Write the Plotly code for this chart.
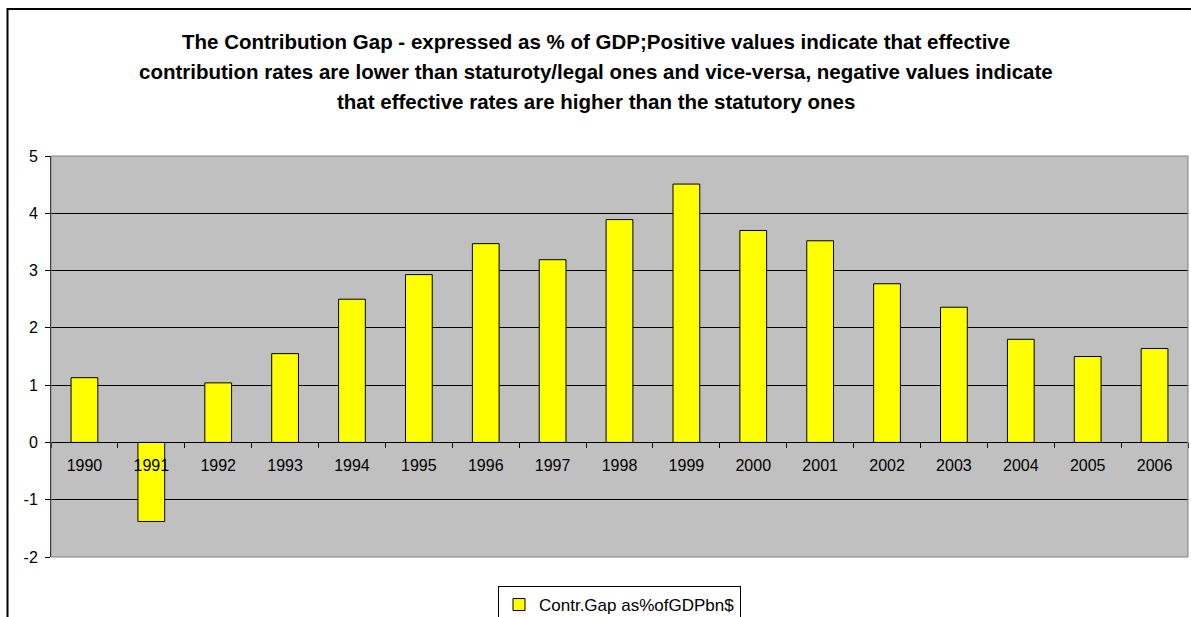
import plotly.graph_objects as go

# Contribution gap by year, % of GDP
years = ["1990", "1991", "1992", "1993", "1994", "1995", "1996", "1997", "1998",
         "1999", "2000", "2001", "2002", "2003", "2004", "2005", "2006"]
gap_pct_gdp = [1.13, -1.38, 1.04, 1.55, 2.50, 2.93, 3.47, 3.19, 3.89,
               4.51, 3.70, 3.52, 2.77, 2.36, 1.80, 1.50, 1.64]
series_name = "Contr.Gap as%ofGDPbn$"
title_lines = [
    "The Contribution Gap - expressed as % of GDP;Positive values indicate that effective",
    "contribution rates are lower than staturoty/legal ones and vice-versa, negative values indicate",
    "that effective rates are higher than the statutory ones",
]
y_ticks = [-2, -1, 0, 1, 2, 3, 4, 5]
y_tick_text = ["-2", "-1", "0", "1", "2", "3", "4", "5"]
y_min, y_max = -2, 5

FONT = "Arial, Liberation Sans, sans-serif"
W, H = 1191, 617
ML, MR, MT, MB = 51, 3, 156, 60
plot_w = W - ML - MR
plot_h = H - MT - MB


def px_x(px):
    return (px - ML) / plot_w


def px_y(py):
    return (H - MB - py) / plot_h


fig = go.Figure()
fig.add_trace(go.Bar(
    x=years, y=gap_pct_gdp, name=series_name,
    marker=dict(color="#FFFF00", line=dict(color="#000000", width=1)),
    showlegend=True,
))

annotations = []
for line, cy in zip(title_lines, [42, 72, 101]):
    annotations.append(dict(
        text="<b>" + line + "</b>", xref="paper", yref="paper",
        x=px_x(595.5), y=px_y(cy), xanchor="center", yanchor="middle",
        showarrow=False, font=dict(family=FONT, size=20.5, color="#000000"),
    ))

shapes = [
    # plot area frame
    dict(type="rect", xref="paper", yref="paper", x0=0, x1=1, y0=0, y1=1,
         line=dict(color="#808080", width=1), layer="above"),
    # outer chart frame
    dict(type="rect", xref="paper", yref="paper",
         x0=px_x(7.5), x1=px_x(1200), y0=px_y(640), y1=px_y(9),
         line=dict(color="#000000", width=2), layer="above"),
]

fig.update_layout(
    width=W, height=H,
    margin=dict(l=ML, r=MR, t=MT, b=MB, autoexpand=False),
    paper_bgcolor="#FFFFFF", plot_bgcolor="#C0C0C0",
    font=dict(family=FONT, size=16, color="#000000"),
    bargap=0.6,
    annotations=annotations,
    shapes=shapes,
    legend=dict(
        orientation="h", x=0.5, xanchor="center", y=px_y(586), yanchor="top",
        bgcolor="#FFFFFF", bordercolor="#000000", borderwidth=1,
        font=dict(family=FONT, size=17, color="#000000"),
        itemwidth=30,
    ),
    xaxis=dict(
        type="category", anchor="free",
        position=(0 - y_min) / (y_max - y_min),
        showline=True, linecolor="#000000", linewidth=1,
        ticks="outside", ticklen=5, tickcolor="#000000", tickson="boundaries",
        showgrid=False, ticklabelstandoff=8,
        tickfont=dict(family=FONT, size=16, color="#000000"),
    ),
    yaxis=dict(
        range=[y_min, y_max], tickvals=y_ticks, ticktext=y_tick_text,
        showline=True, linecolor="#000000", linewidth=1,
        ticks="outside", ticklen=5, tickcolor="#000000",
        showgrid=True, gridcolor="#000000", gridwidth=1,
        zeroline=False, ticklabelstandoff=4,
        tickfont=dict(family=FONT, size=16, color="#000000"),
    ),
)

fig.write_html("out.html")
